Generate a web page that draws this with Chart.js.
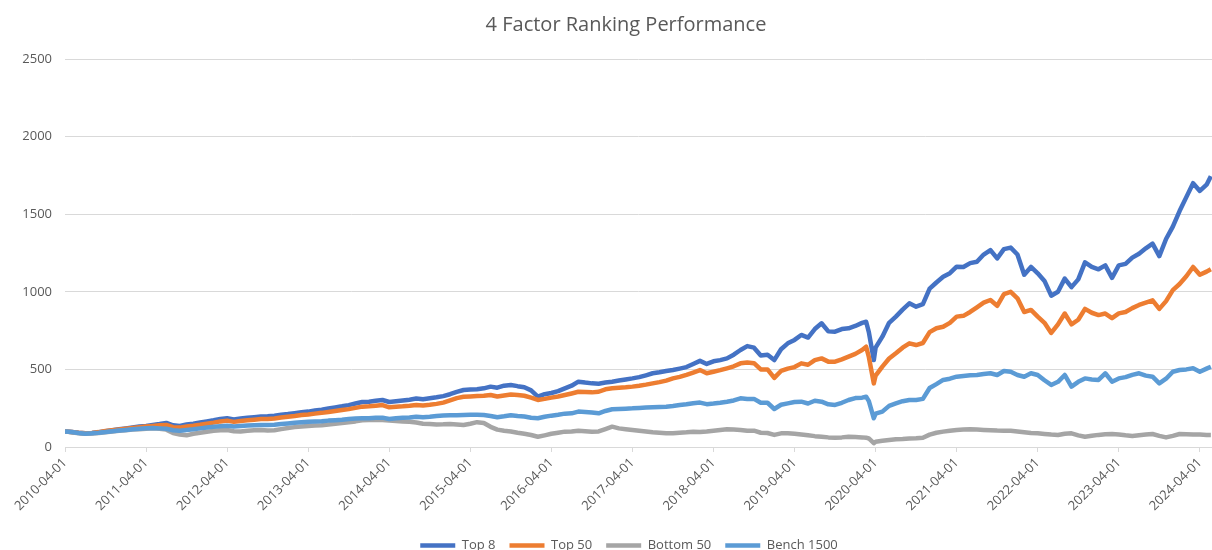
<!DOCTYPE html>
<html>
<head>
<meta charset="utf-8">
<title>4 Factor Ranking Performance</title>
<script src="https://cdn.jsdelivr.net/npm/chart.js@4.4.1/dist/chart.umd.min.js"></script>
<style>
	body{margin:0;background:#fff;}
	#wrap{width:1212px;height:550px;}
</style>
</head>
<body>
<div id="wrap"><canvas id="mycanvas" width="1212" height="550"></canvas></div>
<script>
// dates (monthly, plus a few extra days around the 2020 crash and the last day)
var dates=[
	'2010-04-01','2010-05-01','2010-06-01','2010-07-01','2010-08-01','2010-09-01','2010-10-01','2010-11-01','2010-12-01',
	'2011-01-01','2011-02-01','2011-03-01','2011-04-01','2011-05-01','2011-06-01','2011-07-01','2011-08-01','2011-09-01','2011-10-01','2011-11-01','2011-12-01',
	'2012-01-01','2012-02-01','2012-03-01','2012-04-01','2012-05-01','2012-06-01','2012-07-01','2012-08-01','2012-09-01','2012-10-01','2012-11-01','2012-12-01',
	'2013-01-01','2013-02-01','2013-03-01','2013-04-01','2013-05-01','2013-06-01','2013-07-01','2013-08-01','2013-09-01','2013-10-01','2013-11-01','2013-12-01',
	'2014-01-01','2014-02-01','2014-03-01','2014-04-01','2014-05-01','2014-06-01','2014-07-01','2014-08-01','2014-09-01','2014-10-01','2014-11-01','2014-12-01',
	'2015-01-01','2015-02-01','2015-03-01','2015-04-01','2015-05-01','2015-06-01','2015-07-01','2015-08-01','2015-09-01','2015-10-01','2015-11-01','2015-12-01',
	'2016-01-01','2016-02-01','2016-03-01','2016-04-01','2016-05-01','2016-06-01','2016-07-01','2016-08-01','2016-09-01','2016-10-01','2016-11-01','2016-12-01',
	'2017-01-01','2017-02-01','2017-03-01','2017-04-01','2017-05-01','2017-06-01','2017-07-01','2017-08-01','2017-09-01','2017-10-01','2017-11-01','2017-12-01',
	'2018-01-01','2018-02-01','2018-03-01','2018-04-01','2018-05-01','2018-06-01','2018-07-01','2018-08-01','2018-09-01','2018-10-01','2018-11-01','2018-12-01',
	'2019-01-01','2019-02-01','2019-03-01','2019-04-01','2019-05-01','2019-06-01','2019-07-01','2019-08-01','2019-09-01','2019-10-01','2019-11-01','2019-12-01',
	'2020-01-01','2020-02-01','2020-02-19','2020-03-01','2020-03-23','2020-04-01','2020-05-01','2020-06-01','2020-07-01','2020-08-01','2020-09-01','2020-10-01','2020-11-01','2020-12-01',
	'2021-01-01','2021-02-01','2021-03-01','2021-04-01','2021-05-01','2021-06-01','2021-07-01','2021-08-01','2021-09-01','2021-10-01','2021-11-01','2021-12-01',
	'2022-01-01','2022-02-01','2022-03-01','2022-04-01','2022-05-01','2022-06-01','2022-07-01','2022-08-01','2022-09-01','2022-10-01','2022-11-01','2022-12-01',
	'2023-01-01','2023-02-01','2023-03-01','2023-04-01','2023-05-01','2023-06-01','2023-07-01','2023-08-01','2023-09-01','2023-10-01','2023-11-01','2023-12-01',
	'2024-01-01','2024-02-01','2024-03-01','2024-04-01','2024-05-01','2024-05-20'
];

// series values, rows run April..March
var top8=[
	100,97,92,88,90,95,102,108,114,120,126,132,
	136,142,148,155,140,136,145,150,158,165,172,180,
	185,178,184,188,192,196,198,202,208,212,218,224,
	228,235,240,248,255,262,270,280,290,292,298,303,
	290,295,300,305,312,308,314,320,328,340,355,367,
	370,372,378,389,382,395,400,392,385,365,325,340,
	348,360,378,395,421,415,410,408,415,421,428,435,
	442,450,462,475,482,490,496,505,515,535,555,535,
	552,560,571,595,625,650,640,590,595,560,630,668,
	690,722,705,760,797,745,743,760,765,780,800,807,740,560,
	640,711,800,840,885,926,904,920,1020,1060,1097,1120,
	1162,1160,1185,1194,1240,1269,1215,1275,1285,1240,1110,1160,
	1119,1070,975,1000,1085,1030,1080,1190,1160,1145,1170,1090,
	1170,1180,1220,1245,1280,1310,1230,1340,1420,1520,1610,1700,
	1650,1690,1745
];
var top50=[
	100,97,92,89,91,96,103,108,113,118,123,128,
	132,136,140,142,128,125,132,137,143,150,157,165,
	170,162,168,172,176,180,180,184,190,195,200,206,
	210,215,220,226,232,238,244,252,260,262,266,270,
	256,260,262,266,271,268,272,278,286,300,315,324,
	326,328,330,335,325,332,338,335,330,318,303,310,
	318,325,335,345,356,355,352,356,372,378,382,385,
	389,395,402,410,418,428,442,452,465,480,496,475,
	485,495,507,520,539,545,540,500,500,445,490,505,
	515,539,530,560,571,550,550,565,582,600,625,646,580,410,
	460,518,570,604,640,668,657,670,740,765,775,800,
	840,845,870,900,930,947,910,985,1000,958,870,883,
	840,800,735,790,860,790,820,890,865,850,860,830,
	861,870,895,915,930,945,890,940,1011,1050,1100,1160,
	1110,1130,1145
];
var bottom50=[
	100,95,88,85,87,90,95,100,104,108,112,115,
	118,120,118,112,90,80,75,85,92,98,104,108,
	110,102,100,104,108,110,106,108,115,122,128,132,
	135,138,140,145,150,155,160,165,172,174,174,174,
	170,168,165,162,158,150,148,145,146,148,145,142,
	150,160,155,130,112,105,100,92,85,77,66,75,
	85,92,99,100,105,102,99,100,115,131,120,115,
	110,105,100,95,92,88,88,92,95,99,96,100,
	105,110,114,112,110,105,105,92,90,78,88,88,
	85,80,75,70,66,62,60,62,66,64,62,60,55,25,
	34,40,45,50,52,55,56,60,80,92,99,105,
	110,112,114,112,110,108,106,105,104,100,95,90,
	88,84,80,77,85,88,75,66,72,78,82,84,
	80,75,71,76,80,84,72,62,72,84,82,80,
	80,78,78
];
var bench1500=[
	100,96,90,86,88,92,97,102,106,110,114,118,
	121,122,120,118,108,105,110,114,120,126,130,134,
	137,132,135,138,140,142,141,143,148,152,156,160,
	163,165,166,170,173,176,180,183,185,186,188,189,
	180,185,188,190,195,192,195,200,203,204,205,206,
	207,208,206,200,192,198,205,200,196,188,185,195,
	202,208,215,217,228,226,222,217,232,243,245,247,
	249,252,254,256,258,260,264,270,275,282,286,276,
	280,285,292,300,314,310,310,285,285,245,272,281,
	290,292,280,298,292,275,271,285,303,315,318,324,295,185,
	215,228,265,281,295,303,303,310,380,405,432,440,
	453,458,462,464,470,475,464,490,485,464,453,475,
	464,430,400,420,464,389,420,442,435,432,475,421,
	442,450,465,475,460,453,410,440,485,496,500,507,
	485,505,517
];
var seriesNames=['Top 8','Top 50','Bottom 50','Bench 1500'];
var seriesColors=['#4472C4','#ED7D31','#A5A5A5','#5B9BD5'];
var tickYears=[2010,2011,2012,2013,2014,2015,2016,2017,2018,2019,2020,2021,2022,2023,2024];

// months since 2010-04-01
function toMonth(d){
	var p=d.split('-');
	return (parseInt(p[0])-2010)*12+(parseInt(p[1])-4)+(parseInt(p[2])-1)/30;
}
function points(vals){
	var out=[];
	for(var i in dates){
		out.push({x:toMonth(dates[i]),y:vals[i]});
	}
	return out;
}

var allVals=[top8,top50,bottom50,bench1500];
var datasets=[];
for(var s=0;s<allVals.length;s++){
	datasets.push({
		label:seriesNames[s],
		data:points(allVals[s]),
		borderColor:seriesColors[s],
		backgroundColor:seriesColors[s],
		borderWidth:4.5,
		pointRadius:0,
		tension:0,
		borderJoinStyle:'round',
		order:4-s
	});
}

var font="'Open Sans', 'Noto Sans', sans-serif";
var textColor='#595959';
var gridColor='#d9d9d9';

// title and legend sit centred over the plot area, legend hugs the bottom edge
var nudge={
	id:'nudge',
	afterLayout:function(chart){
		chart.titleBlock.left+=40;
		chart.legend.left+=46;
		chart.legend.top+=12;
		chart.legend.bottom+=12;
	}
};

var ctx=document.getElementById('mycanvas');
var lineGraph=new Chart(ctx,{
	type:'line',
	data:{datasets:datasets},
	plugins:[nudge],
	options:{
		responsive:false,
		animation:false,
		layout:{padding:0},
		plugins:{
			title:{
				display:true,
				text:'4 Factor Ranking Performance',
				color:textColor,
				font:{family:font,size:20,weight:'normal',lineHeight:1.2},
				padding:{top:13,bottom:22}
			},
			legend:{
				position:'bottom',
				labels:{
					color:textColor,
					font:{family:font,size:13},
					usePointStyle:true,
					pointStyle:'line',
					pointStyleWidth:35,
					padding:14,
					sort:function(a,b){return a.datasetIndex-b.datasetIndex;}
				}
			},
			tooltip:{enabled:false}
		},
		scales:{
			x:{
				type:'linear',
				min:0,
				max:169.8,
				afterBuildTicks:function(scale){
					scale.ticks=tickYears.map(function(y){return {value:(y-2010)*12};});
				},
				afterFit:function(scale){
					scale.height=66;
					scale.paddingLeft=0;
					scale.paddingRight=0;
				},
				grid:{drawOnChartArea:false,drawTicks:true,tickLength:5,color:gridColor},
				border:{display:true,color:gridColor},
				ticks:{
					autoSkip:false,
					maxRotation:45,
					minRotation:45,
					color:textColor,
					font:{family:font,size:13},
					callback:function(v){return (2010+Math.round(v/12))+'-04-01';}
				}
			},
			y:{
				min:0,
				max:2500,
				afterFit:function(scale){scale.width=65;},
				grid:{color:gridColor,drawTicks:false},
				border:{display:false},
				ticks:{
					stepSize:500,
					padding:13,
					color:textColor,
					font:{family:font,size:13},
					callback:function(v){return String(v);}
				}
			}
		}
	}
});
</script>
</body>
</html>
